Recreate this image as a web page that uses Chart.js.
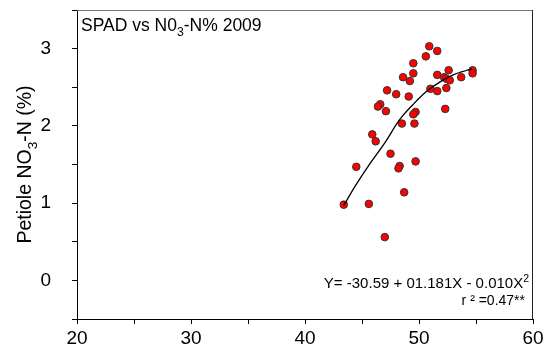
<!DOCTYPE html>
<html>
<head>
<meta charset="utf-8">
<script src="https://cdn.jsdelivr.net/npm/chart.js@4"></script>
<style>
  html, body { margin: 0; padding: 0; background: #fff; }
  #wrap { width: 547px; height: 358px; }
</style>
</head>
<body>
<div id="wrap"><canvas id="spadChart" width="547" height="358"></canvas></div>
<script>
// du lieu doc tu hinh: SPAD (x) va NO3-N cuong (y)
const spadValues = [50.9, 51.6, 50.6, 49.5, 49.5, 52.6, 54.7, 54.7, 48.6, 49.2,
                    51.6, 52.2, 52.4, 52.7, 53.7, 51.0, 51.6, 52.4, 47.2, 48.0,
                    49.1, 46.6, 46.4, 47.1, 52.3, 49.7, 49.5, 48.5, 49.6, 45.9,
                    46.2, 47.5, 44.5, 48.3, 48.2, 49.7, 48.7, 43.4, 45.6, 47.0];
const no3Values  = [3.03, 2.97, 2.90, 2.81, 2.68, 2.72, 2.72, 2.68, 2.63, 2.58,
                    2.66, 2.63, 2.61, 2.59, 2.63, 2.48, 2.45, 2.49, 2.46, 2.41,
                    2.38, 2.28, 2.25, 2.19, 2.22, 2.18, 2.15, 2.03, 2.03, 1.89,
                    1.80, 1.64, 1.47, 1.48, 1.45, 1.54, 1.14, 0.98, 0.99, 0.56];

// duong hoi quy (doc theo net ve tren hinh)
const fitX = [43.4, 44.4, 45.55, 47.0, 48.3, 49.5, 50.7, 51.85, 53.0, 54.2, 54.65];
const fitY = [0.97, 1.22, 1.48, 1.78, 2.08, 2.28, 2.45, 2.57, 2.66, 2.72, 2.74];

const xMin = 20, xMax = 60, xStep = 5;
const yMin = -0.5, yMax = 3.5, yStep = 0.5;

const fontFam = "'Liberation Sans', Arial, sans-serif";

// ve chu co chi so duoi / tren
function drawRich(c, parts, x, y, size, align) {
    let total = 0;
    parts.forEach(p => {
        c.font = (p.sub || p.sup ? size * 0.7 : size) + 'px ' + fontFam;
        p.w = c.measureText(p.t).width;
        total += p.w;
    });
    let cx = align === 'right' ? x - total : (align === 'center' ? x - total / 2 : x);
    c.textAlign = 'left';
    c.textBaseline = 'alphabetic';
    parts.forEach(p => {
        c.font = (p.sub || p.sup ? size * 0.7 : size) + 'px ' + fontFam;
        let dy = p.sub ? size * 0.3 : (p.sup ? -size * 0.4 : 0);
        c.fillText(p.t, cx, y + dy);
        cx += p.w;
    });
}

const textPlugin = {
    id: 'textPlugin',
    afterDraw(chart) {
        const c = chart.ctx;
        const a = chart.chartArea;
        c.save();
        // khung tren va phai
        c.lineWidth = 1;
        c.strokeStyle = '#777';
        c.beginPath();
        c.moveTo(a.left, a.top + 0.5);
        c.lineTo(a.right, a.top + 0.5);
        c.stroke();
        c.strokeStyle = '#222';
        c.beginPath();
        c.moveTo(a.right - 0.5, a.top);
        c.lineTo(a.right - 0.5, a.bottom);
        c.stroke();

        c.fillStyle = '#000';
        drawRich(c, [{t: 'SPAD vs N0'}, {t: '3', sub: true}, {t: '-N% 2009'}], a.left + 4, a.top + 21, 17.5, 'left');
        drawRich(c, [{t: 'Y= -30.59 + 01.181X - 0.010X'}, {t: '2', sup: true}], a.right - 4, 288, 15, 'right');
        c.font = '14px ' + fontFam;
        c.textAlign = 'right';
        c.fillText('r \u00b2 =0.47**', a.right - 8, 305);

        // tieu de truc y
        c.translate(31, (a.top + a.bottom) / 2);
        c.rotate(-Math.PI / 2);
        drawRich(c, [{t: 'Petiole NO'}, {t: '3', sub: true}, {t: '-N (%)'}], 0, 0, 19.5, 'center');
        c.restore();
    }
};

const ctx = document.getElementById('spadChart').getContext('2d');
const spadChart = new Chart(ctx, {
    type: 'scatter',
    data: {
        datasets: [{
            data: fitX.map((x, i) => ({x: x, y: fitY[i]})),
            showLine: true,
            borderColor: '#000',
            borderWidth: 1.3,
            pointRadius: 0,
            tension: 0.4,
            fill: false
        }, {
            data: spadValues.map((x, i) => ({x: x, y: no3Values[i]})),
            backgroundColor: '#ff0000',
            borderColor: '#333',
            borderWidth: 1,
            pointRadius: 3.8
        }]
    },
    options: {
        responsive: false,
        animation: false,
        layout: { padding: { top: 10, right: 14, left: 0, bottom: 0 } },
        plugins: { legend: { display: false }, tooltip: { enabled: false } },
        scales: {
            x: {
                type: 'linear', min: xMin, max: xMax,
                afterFit: s => { s.height = 39; s.paddingLeft = 0; s.paddingRight = 0; },
                ticks: {
                    stepSize: xStep, autoSkip: false, maxRotation: 0, padding: 3,
                    color: '#000', font: { size: 19, family: fontFam },
                    callback: v => v % 10 === 0 ? v : ''
                },
                grid: { drawOnChartArea: false, drawTicks: true, tickLength: 5, color: '#000' },
                border: { color: '#000', width: 1 }
            },
            y: {
                type: 'linear', min: yMin, max: yMax,
                afterFit: s => { s.width = 77; s.paddingTop = 0; s.paddingBottom = 0; },
                ticks: {
                    stepSize: yStep, autoSkip: false, padding: 21,
                    color: '#000', font: { size: 19, family: fontFam },
                    callback: v => Number.isInteger(v) ? v : ''
                },
                grid: { drawOnChartArea: false, drawTicks: true, tickLength: 5, color: '#000' },
                border: { color: '#000', width: 1 }
            }
        }
    },
    plugins: [textPlugin]
});
</script>
</body>
</html>
